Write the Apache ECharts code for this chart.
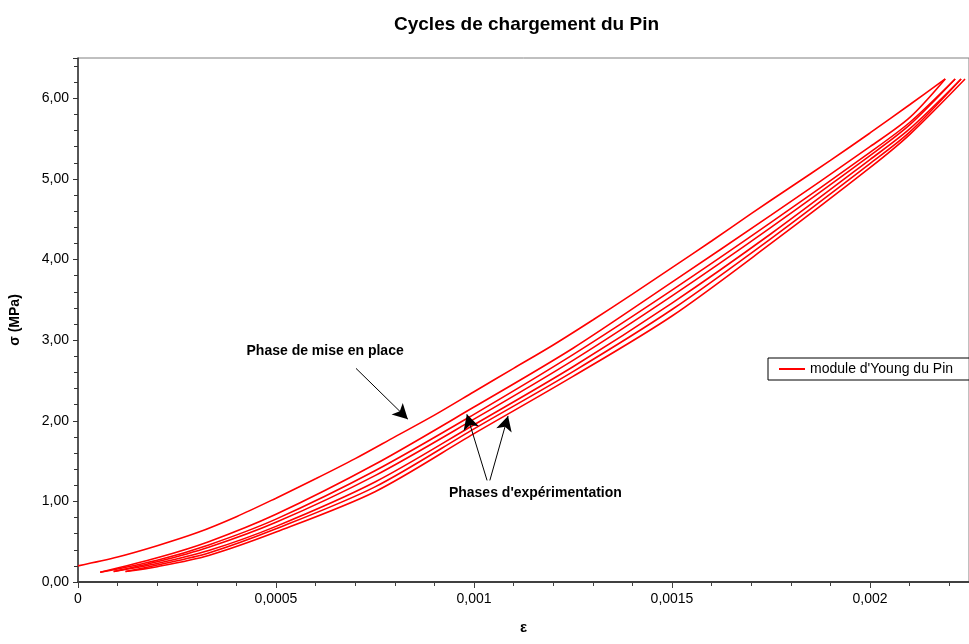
<!DOCTYPE html>
<html>
<head>
<meta charset="utf-8">
<script src="https://cdn.jsdelivr.net/npm/echarts@6/dist/echarts.min.js"></script>
<style>html,body{margin:0;padding:0;background:#fff}#c{width:969px;height:644px}</style>
</head>
<body>
<div id="c"></div>
<script>
// ---- data (strain ε, stress σ in MPa) ----
const xTicks = [0, 0.0005, 0.001, 0.0015, 0.002];
const yTicks = [0, 1, 2, 3, 4, 5, 6];

// first loading (phase de mise en place)
const epsA = [0, 0.0001, 0.0002, 0.0003, 0.0004, 0.0005, 0.0006, 0.0007, 0.0008, 0.0009, 0.001, 0.0011, 0.0012, 0.0013, 0.0014, 0.0015, 0.0016, 0.0017, 0.0018, 0.0019, 0.002, 0.0021, 0.00219];
const sigA = [0.20, 0.31, 0.45, 0.61, 0.81, 1.04, 1.28, 1.53, 1.80, 2.07, 2.36, 2.65, 2.94, 3.25, 3.57, 3.90, 4.23, 4.57, 4.90, 5.23, 5.57, 5.92, 6.24];

// experimental cycles
const epsB = [0.000056, 0.0002, 0.00033, 0.0005, 0.00075, 0.001, 0.00125, 0.0015, 0.00175, 0.002, 0.0021, 0.00219];
const sigB = [0.12, 0.30, 0.50, 0.84, 1.46, 2.17, 2.90, 3.72, 4.55, 5.40, 5.76, 6.24];
const epsC = [0.000056, 0.0002, 0.00033, 0.0005, 0.00075, 0.001, 0.00125, 0.0015, 0.00175, 0.002, 0.0021, 0.002215];
const sigC = [0.12, 0.27, 0.46, 0.78, 1.38, 2.08, 2.82, 3.62, 4.46, 5.33, 5.70, 6.24];
const epsD = [0.00009, 0.0002, 0.00033, 0.0005, 0.00075, 0.001, 0.00125, 0.0015, 0.00175, 0.002, 0.0021, 0.002215];
const sigD = [0.13, 0.25, 0.43, 0.74, 1.32, 2.02, 2.75, 3.55, 4.40, 5.29, 5.67, 6.24];
const epsE = [0.00009, 0.0002, 0.00033, 0.0005, 0.00075, 0.001, 0.00125, 0.0015, 0.00175, 0.002, 0.0021, 0.00223];
const sigE = [0.13, 0.23, 0.39, 0.69, 1.24, 1.95, 2.67, 3.46, 4.32, 5.24, 5.62, 6.24];
const epsF = [0.00012, 0.0002, 0.00033, 0.0005, 0.00075, 0.001, 0.00125, 0.0015, 0.00175, 0.002, 0.0021, 0.00223];
const sigF = [0.13, 0.21, 0.36, 0.66, 1.18, 1.90, 2.61, 3.38, 4.26, 5.19, 5.58, 6.24];
const epsG = [0.00012, 0.0002, 0.00033, 0.0005, 0.00075, 0.001, 0.00125, 0.0015, 0.00175, 0.002, 0.0021, 0.00224];
const sigG = [0.13, 0.19, 0.33, 0.62, 1.12, 1.84, 2.55, 3.30, 4.20, 5.14, 5.55, 6.24];

const seriesName = "module d'Young du Pin";
const curves = [[epsA, sigA], [epsB, sigB], [epsC, sigC], [epsD, sigD], [epsE, sigE], [epsF, sigF], [epsG, sigG]];

// annotations (data coordinates)
const noteMise = { text: 'Phase de mise en place', at: [0.000624, 2.86], from: [0.000702, 2.65], to: [0.000833, 2.02] };
const noteExp = { text: "Phases d'expérimentation", at: [0.001155, 1.10], from: [[0.001033, 1.26], [0.00104, 1.26]], to: [[0.000982, 2.08], [0.001086, 2.06]] };

const FONT = '"Liberation Sans", Arial, sans-serif';
const chart = echarts.init(document.getElementById('c'), null, { renderer: 'canvas' });

const series = curves.map(function (c, i) {
  return {
    name: seriesName,
    type: 'line',
    data: c[0].map(function (e, k) { return [e, c[1][k]]; }),
    showSymbol: false,
    smooth: 0.3,
    lineStyle: { color: '#ff0000', width: 1.6 },
    itemStyle: { color: '#ff0000' },
    silent: true,
    z: 3
  };
});

const arrowLine = function (a, b) { return [{ coord: a }, { coord: b }]; };
series.push({
  name: 'notes',
  type: 'line',
  data: [],
  silent: true,
  markLine: {
    silent: true,
    symbol: ['none', 'arrow'],
    symbolSize: [12, 15],
    lineStyle: { color: '#000', width: 1, type: 'solid' },
    label: { show: false },
    data: [
      arrowLine(noteMise.from, noteMise.to),
      arrowLine(noteExp.from[0], noteExp.to[0]),
      arrowLine(noteExp.from[1], noteExp.to[1])
    ]
  },
  markPoint: {
    silent: true,
    symbol: 'circle',
    symbolSize: 0,
    label: { show: true, position: 'inside', color: '#000', fontFamily: FONT, fontWeight: 'bold', fontSize: 14 },
    data: [
      { coord: noteMise.at, value: noteMise.text, label: { formatter: noteMise.text } },
      { coord: noteExp.at, value: noteExp.text, label: { formatter: noteExp.text } }
    ]
  }
});

chart.setOption({
  animation: false,
  backgroundColor: '#fff',
  title: {
    text: 'Cycles de chargement du Pin',
    left: 389, top: 10,
    textStyle: { fontFamily: FONT, fontWeight: 'bold', fontSize: 19, color: '#000' }
  },
  legend: {
    data: [seriesName],
    left: 768, top: 358,
    padding: [4, 40, 4, 11],
    borderColor: '#000', borderWidth: 1,
    itemWidth: 26, itemHeight: 2, icon: 'rect',
    textStyle: { fontFamily: FONT, fontSize: 14, color: '#000' }
  },
  grid: { left: 78, top: 58, right: 0, bottom: 62, show: true, borderColor: '#808080', borderWidth: 1, containLabel: false },
  xAxis: {
    type: 'value', min: 0, max: 0.00225, interval: 0.0005,
    name: 'ε', nameLocation: 'middle', nameGap: 38,
    nameTextStyle: { fontFamily: FONT, fontWeight: 'bold', fontSize: 15, color: '#000' },
    axisLine: { show: true, lineStyle: { color: '#404040', width: 2 } },
    axisTick: { show: true, length: 6, lineStyle: { color: '#404040' } },
    minorTick: { show: true, splitNumber: 5, length: 4, lineStyle: { color: '#404040' } },
    splitLine: { show: false },
    axisLabel: {
      fontFamily: FONT, fontSize: 14, color: '#000', margin: 10, showMaxLabel: false,
      formatter: function (v) { return xTicks.indexOf(parseFloat(v.toFixed(6))) >= 0 ? String(parseFloat(v.toFixed(6))).replace('.', ',') : ''; }
    }
  },
  yAxis: {
    type: 'value', min: 0, max: 6.5, interval: 1,
    name: 'σ (MPa)', nameLocation: 'middle', nameGap: 56, nameRotate: 90,
    nameTextStyle: { fontFamily: FONT, fontWeight: 'bold', fontSize: 14, color: '#000' },
    axisLine: { show: true, lineStyle: { color: '#333', width: 1.5 } },
    axisTick: { show: true, length: 5, lineStyle: { color: '#333' } },
    minorTick: { show: true, splitNumber: 5, length: 4, lineStyle: { color: '#333' } },
    splitLine: { show: false },
    axisLabel: {
      fontFamily: FONT, fontSize: 14, color: '#000', margin: 9, showMaxLabel: true,
      formatter: function (v) { return yTicks.indexOf(Math.round(v * 100) / 100) >= 0 ? v.toFixed(2).replace('.', ',') : ''; }
    }
  },
  series: series
});
</script>
</body>
</html>
